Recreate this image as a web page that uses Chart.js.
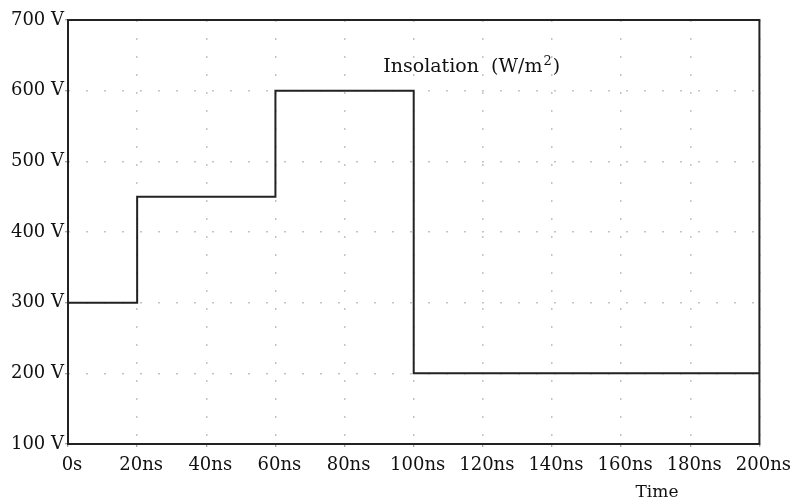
<!DOCTYPE html>
<html>
<head>
<meta charset="utf-8">
<script src="https://cdn.jsdelivr.net/npm/chart.js@4/dist/chart.umd.min.js"></script>
<style>
  html, body { margin: 0; padding: 0; background: #fff; }
  #wrap { width: 795px; height: 503px; position: relative; }
</style>
</head>
<body>
<div id="wrap"><canvas id="chart"></canvas></div>
<script>
// === Data ===
const timeNs = [0, 20, 60, 100, 200];
const insolation = [300, 450, 600, 200, 200];
const xTicks = [0, 20, 40, 60, 80, 100, 120, 140, 160, 180, 200];
const yTicks = [100, 200, 300, 400, 500, 600, 700];
const seriesLabel = "Insolation (W/m²)";
const xTitle = "Time";

const FONT = "'DejaVu Serif', 'Liberation Serif', serif";
const INK = "#111";

// labels drawn on top of the plot
const textPlugin = {
  id: "texts",
  afterDraw(chart) {
    const ctx = chart.ctx;
    const xs = chart.scales.x, ys = chart.scales.y;
    const x0 = xs.getPixelForValue(91.2), y0 = ys.getPixelForValue(633);
    ctx.save();
    ctx.fillStyle = INK;
    ctx.textBaseline = "middle";
    ctx.textAlign = "left";
    ctx.font = "19px " + FONT;
    const main = "Insolation  (W/m";
    ctx.fillText(main, x0, y0);
    const w = ctx.measureText(main).width;
    ctx.font = "13px " + FONT;
    ctx.fillText("2", x0 + w + 1, y0 - 6);
    const w2 = ctx.measureText("2").width;
    ctx.font = "19px " + FONT;
    ctx.fillText(")", x0 + w + w2 + 2, y0);
    ctx.font = "17px " + FONT;
    ctx.textAlign = "center";
    ctx.fillText(xTitle, 657, 493);
    ctx.restore();
  }
};

const chart = new Chart(document.getElementById("chart"), {
  type: "line",
  data: {
    datasets: [{
      label: seriesLabel,
      data: timeNs.map((t, i) => ({ x: t, y: insolation[i] })),
      stepped: "before",
      borderColor: "#222",
      borderWidth: 2,
      pointRadius: 0,
      fill: false
    }]
  },
  options: {
    responsive: true,
    maintainAspectRatio: false,
    animation: false,
    layout: { padding: { top: 20, right: 35, bottom: 0, left: 0 } },
    plugins: { legend: { display: false }, tooltip: { enabled: false } },
    scales: {
      x: {
        type: "linear",
        min: 0,
        max: 200,
        afterBuildTicks: s => { s.ticks = xTicks.map(v => ({ value: v })); },
        afterFit: s => { s.height = 59; },
        ticks: {
          callback: v => v === 0 ? "0s" : v + "ns",
          font: { family: FONT, size: 18 },
          color: INK,
          maxRotation: 0,
          autoSkip: false,
          padding: 8,
          labelOffset: 4
        },
        grid: { color: "#c4c4c4", lineWidth: 1.5, tickLength: 3, tickColor: "#888", tickBorderDash: [], tickWidth: 1 },
        border: { display: false, dash: [2, 16] }
      },
      y: {
        min: 100,
        max: 700,
        afterBuildTicks: s => { s.ticks = yTicks.map(v => ({ value: v })); },
        afterFit: s => { s.width = 68; },
        ticks: {
          callback: v => v + " V",
          font: { family: FONT, size: 18 },
          color: INK,
          padding: 1
        },
        grid: { color: "#c4c4c4", lineWidth: 1.5, tickLength: 3, tickColor: "#888", tickBorderDash: [], tickWidth: 1 },
        border: { display: false, dash: [2, 16] }
      }
    }
  },
  plugins: [textPlugin, {
    id: "frame",
    afterDatasetsDraw(chart) {
      const { ctx, chartArea: a } = chart;
      ctx.save();
      ctx.strokeStyle = "#222";
      ctx.lineWidth = 2;
      ctx.strokeRect(a.left, a.top, a.right - a.left, a.bottom - a.top);
      ctx.restore();
    }
  }]
});
</script>
</body>
</html>
